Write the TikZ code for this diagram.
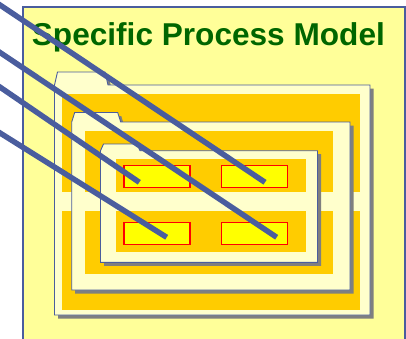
\documentclass[tikz,border=0pt]{standalone}
\usepackage{fontspec}
\setmainfont{Liberation Sans}
\usepackage{tikz}
\usetikzlibrary{positioning}
\definecolor{PanelYellow}{HTML}{FFFF99}
\definecolor{FolderCream}{HTML}{FFFFCC}
\definecolor{BandOrange}{HTML}{FFCC00}
\definecolor{BoxYellow}{HTML}{FFFF00}
\definecolor{BoxRed}{HTML}{FF0000}
\definecolor{LinkBlue}{HTML}{4A5D9E}
\definecolor{TitleGreen}{HTML}{006600}
\definecolor{ShadowGray}{HTML}{7F7F7F}

\tikzset{
  folderbody/.style={fill=FolderCream, draw=LinkBlue, line width=0.9pt},
  foldershadow/.style={fill=ShadowGray},
  band/.style={fill=BandOrange},
  fieldbox/.style={draw=BoxRed, fill=BoxYellow, line width=1.3pt,
    minimum width=66pt, minimum height=22pt, inner sep=0pt},
  link/.style={draw=LinkBlue, line width=5.5pt}
}

\begin{document}
\begin{tikzpicture}[x=1pt, y=-1pt]
  \clip (0,0) rectangle (406,338);
  % Outer panel
  \fill[white] (0,0) rectangle (406,338);
  \filldraw[fill=PanelYellow, draw=LinkBlue, line width=1.6pt]
    (23,6.7) rectangle (405,360);
  % Title
  \node[anchor=base west, inner sep=0pt, text=TitleGreen,
        font=\fontsize{31.6}{36}\selectfont\bfseries] (title) at (31.7,45)
    {Specific Process Model};
  % Nested folders: left/right/bottom/top/tab top/tab right/band left/band right/band top/band bottom
  \foreach \l/\r/\b/\t/\tt/\tr/\bl/\br/\bt/\bb in {
      54.5/370/315/85/72/105/62.3/360/94.3/310,
      71.7/350/290/122/112.5/117.7/85/333.3/131/274,
      100.5/317.5/262.3/150.7/144/137/116/306/159/251.7}{
    \fill[foldershadow, shift={(3.5,3.5)}]
      (\l,\b) -- (\l,\t) -- (\l+3,\tt) -- (\tr,\tt) -- (\tr+3,\t) -- (\r,\t) -- (\r,\b) -- cycle;
    \filldraw[folderbody]
      (\l,\b) -- (\l,\t) -- (\l+3,\tt) -- (\tr,\tt) -- (\tr+3,\t) -- (\r,\t) -- (\r,\b) -- cycle;
    \fill[band] (\bl,\bt) rectangle (\br,191.7);
    \fill[band] (\bl,211) rectangle (\br,\bb);
  }
  % Fields
  \node[fieldbox] (r11) at (156.9,176.3) {};
  \node[fieldbox] (r12) at (254.3,176.3) {};
  \node[fieldbox] (r21) at (156.9,233.3) {};
  \node[fieldbox] (r22) at (254.3,233.3) {};
  % Link ends
  \coordinate (s1) at (-6,1);
  \coordinate (s2) at (-6,48.5);
  \coordinate (s3) at (-6,83);
  \coordinate (s4) at (-6,129.2);
  \coordinate (e12) at (265,182.3);
  \coordinate (e22) at (276.7,237.3);
  \coordinate (e11) at (139.3,182.3);
  \coordinate (e21) at (166.7,237.3);
  % Links
  \foreach \s/\e in {s1/e12, s2/e22, s3/e11, s4/e21}{
    \draw[link] (\s) -- (\e);
  }
\end{tikzpicture}
\end{document}
